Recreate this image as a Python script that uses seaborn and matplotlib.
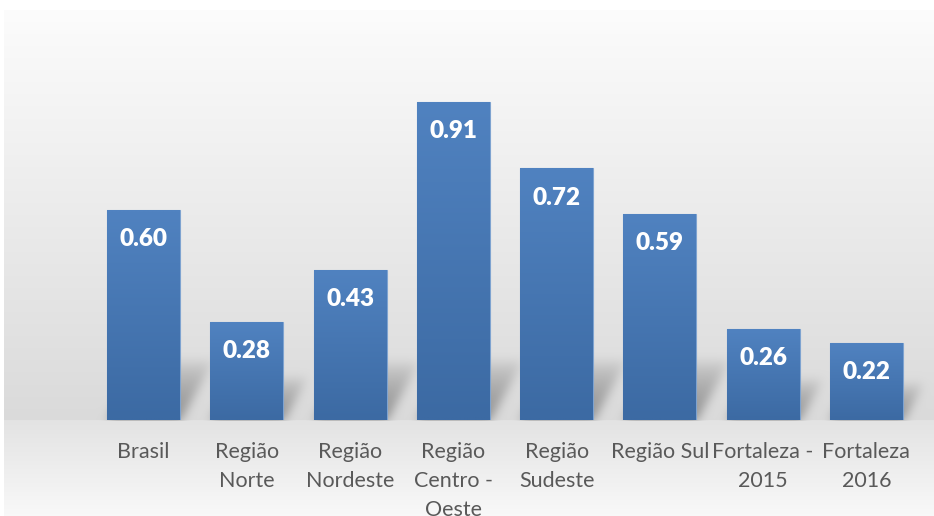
import numpy as np
import pandas as pd
import matplotlib
matplotlib.use("Agg")
import matplotlib.pyplot as plt
import seaborn as sns

categories = ["Brasil", "Região\nNorte", "Região\nNordeste", "Região\nCentro -\nOeste",
              "Região\nSudeste", "Região Sul", "Fortaleza -\n2015", "Fortaleza\n2016"]
values = [0.60, 0.28, 0.43, 0.91, 0.72, 0.59, 0.26, 0.22]
value_labels = ["0.60", "0.28", "0.43", "0.91", "0.72", "0.59", "0.26", "0.22"]

sns.set_theme(style="white")
plt.rcParams['font.family'] = ['Lato', 'DejaVu Sans']

W, H = 934, 516
fig = plt.figure(figsize=(W / 100, H / 100), dpi=100)

# background axes (full figure)
bg = fig.add_axes([0, 0, 1, 1], zorder=0)
bg.set_axis_off()

ax = fig.add_axes([92 / W, 96 / H, 826 / W, 349.5 / H], zorder=1)
ax.patch.set_alpha(0)

df = pd.DataFrame({"cat": categories, "val": values})
sns.barplot(data=df, x="cat", y="val", ax=ax, color="#4f81bd", width=0.707,
            saturation=1, edgecolor="#7ea3d0", linewidth=0.8, zorder=3)
ax.set_xlim(-0.5, len(categories) - 0.5)
ax.set_ylim(0, 1)
ax.set_xlabel("")
ax.set_ylabel("")
ax.set_yticks([])
ax.tick_params(axis="x", length=0, pad=16, labelsize=15.5, labelcolor="#595959")
for lbl in ax.get_xticklabels():
    lbl.set_linespacing(1.56)
    lbl.set_verticalalignment("top")
for s in ax.spines.values():
    s.set_visible(False)

# gradient fill inside bars
top_c = np.array([80, 130, 192]) / 255
bot_c = np.array([60, 106, 163]) / 255
grad = np.linspace(0, 1, 64)[:, None, None]
grad_img = top_c * (1 - grad) + bot_c * grad
for p in ax.patches:
    x0, w, h = p.get_x(), p.get_width(), p.get_height()
    im = ax.imshow(grad_img, extent=[x0, x0 + w, 0, h], aspect="auto",
                   origin="upper", zorder=3.5, interpolation="bilinear")
    im.set_clip_path(p)

for p, t in zip(ax.patches, value_labels):
    ax.annotate(t, (p.get_x() + p.get_width() / 2, p.get_height()),
                xytext=(0, -21), textcoords="offset points", ha="center", va="center",
                color="white", fontsize=17.5, fontweight="heavy", zorder=5)

fig.canvas.draw()

# background image in pixel coords (row 0 = top)
yy = np.arange(H)[:, None].astype(float)
xx = np.arange(W)[None, :].astype(float)
base_px = H - ax.transData.transform((0, 0))[1]
lum = np.where(yy < base_px,
               0.988 - (0.988 - 0.855) * np.clip((yy - 10) / (base_px - 10), 0, 1),
               0.89 + (0.975 - 0.89) * np.clip((yy - base_px) / (H - base_px), 0, 1))
lum = np.broadcast_to(lum, (H, W)).copy()

# shadows
shadow = np.zeros((H, W))
for p in ax.patches:
    (px0, py0) = ax.transData.transform((p.get_x(), 0))
    (px1, py1) = ax.transData.transform((p.get_x() + p.get_width(), p.get_height()))
    bar_h = py1 - py0
    sh_h = min(62, 0.3 * bar_h + 15)
    hgt = base_px - yy  # height above base in px
    slant = 0.55
    left = px0 + slant * hgt
    right = px1 + slant * hgt
    inside = (hgt >= 0) & (hgt <= sh_h) & (xx >= left) & (xx <= right)
    fade = np.clip(1 - hgt / sh_h, 0, 1) ** 0.6
    shadow = np.maximum(shadow, inside * fade)

# blur
def blur(a, r):
    k = np.exp(-0.5 * (np.arange(-3 * r, 3 * r + 1) / r) ** 2)
    k /= k.sum()
    a = np.apply_along_axis(lambda m: np.convolve(m, k, mode="same"), 0, a)
    a = np.apply_along_axis(lambda m: np.convolve(m, k, mode="same"), 1, a)
    return a

shadow = blur(shadow, 5)
shadow[yy[:, 0] > base_px, :] = 0
lum = lum - 0.3 * shadow

# white margins
lum[:10, :] = 1.0
lum[:, :4] = 1.0

img = np.dstack([lum, lum, lum])
bg.imshow(img, extent=[0, W, H, 0], aspect="auto", interpolation="bilinear")
bg.set_xlim(0, W)
bg.set_ylim(H, 0)

fig.savefig("out.png", dpi=100)
